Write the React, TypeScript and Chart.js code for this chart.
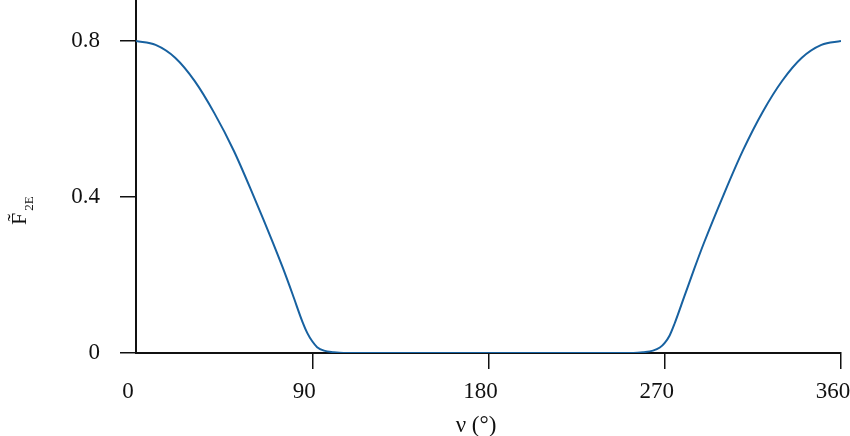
import React, { useEffect, useRef } from "react";
import { Chart, registerables } from "chart.js";

Chart.register(...registerables);

// Angle ν (degrees) and F̃2E values
const nuDeg: number[] = [
  0, 10, 20, 30, 40, 50, 60, 70, 75, 80, 85, 87.5, 90, 92.5, 96, 101, 106,
  120, 150, 180, 210, 240,
  254, 259, 264, 267.5, 270, 272.5, 275, 280, 285, 290, 300, 310, 320, 330, 340, 350, 360,
];
const f2eValues: number[] = [
  0.8, 0.79, 0.757, 0.697, 0.615, 0.518, 0.403, 0.282, 0.218, 0.15, 0.08, 0.051, 0.03, 0.015, 0.006, 0.002, 0.0,
  0, 0, 0, 0, 0,
  0.0, 0.002, 0.006, 0.014, 0.026, 0.045, 0.075, 0.145, 0.215, 0.282, 0.405, 0.52, 0.618, 0.698, 0.757, 0.79, 0.8,
];
const yTickValues: number[] = [0, 0.4, 0.8];
const xTitle = "ν (°)";
const yTitleMain = "F";
const yTitleAccent = "˜";
const yTitleSub = "2E";

const FONT = "'Liberation Serif', 'DejaVu Serif', serif";

const titlesPlugin = {
  id: "customTitles",
  afterDraw(chart: any) {
    const ctx = chart.ctx as CanvasRenderingContext2D;
    ctx.save();
    ctx.fillStyle = "#111";
    // x title
    ctx.font = `23px ${FONT}`;
    ctx.textAlign = "center";
    ctx.textBaseline = "alphabetic";
    ctx.fillText(xTitle, 476, 432);
    ctx.restore();

    // y title (rotated, with tilde and subscript)
    ctx.save();
    ctx.fillStyle = "#111";
    ctx.translate(26, 225);
    ctx.rotate(-Math.PI / 2);
    ctx.textBaseline = "alphabetic";
    ctx.textAlign = "left";
    ctx.font = `22px ${FONT}`;
    ctx.fillText(yTitleMain, 0, 0);
    const wF = ctx.measureText(yTitleMain).width;
    ctx.textAlign = "center";
    ctx.fillText(yTitleAccent, wF / 2 + 1, -4);
    ctx.textAlign = "left";
    ctx.font = `13px ${FONT}`;
    ctx.fillText(yTitleSub, wF + 2, 7);
    ctx.restore();
  },
};

export default function App() {
  const canvasRef = useRef<HTMLCanvasElement | null>(null);

  useEffect(() => {
    if (!canvasRef.current) return;
    const points = nuDeg.map((x, i) => ({ x, y: f2eValues[i] }));
    const chart = new Chart(canvasRef.current, {
      type: "line",
      data: {
        datasets: [
          {
            data: points,
            borderColor: "#1761a0",
            borderWidth: 2,
            pointRadius: 0,
            fill: false,
            cubicInterpolationMode: "monotone",
          },
        ],
      },
      options: {
        animation: false,
        responsive: false,
        maintainAspectRatio: false,
        layout: { padding: 0 },
        plugins: {
          legend: { display: false },
          tooltip: { enabled: false },
          title: { display: false },
        },
        scales: {
          x: {
            type: "linear",
            min: 0,
            max: 360,
            border: { display: true, color: "#111", width: 2 },
            grid: {
              drawOnChartArea: false,
              drawTicks: true,
              tickLength: 16,
              lineWidth: 1.5,
              color: (c: any) => (c.tick && c.tick.value === 0 ? "rgba(0,0,0,0)" : "#111"),
            },
            ticks: {
              stepSize: 90,
              padding: 9,
              labelOffset: -8,
              maxRotation: 0,
              color: "#111",
              font: { family: FONT, size: 23 },
              callback: (v: any) => String(v),
            },
            afterFit: (s: any) => {
              s.height = 83;
              s.paddingLeft = 0;
              s.paddingRight = 9;
            },
          },
          y: {
            type: "linear",
            min: 0,
            max: 0.905,
            border: { display: true, color: "#111", width: 2 },
            grid: {
              drawOnChartArea: false,
              drawTicks: true,
              tickLength: 16,
              lineWidth: 1.5,
              color: "#111",
            },
            afterBuildTicks: (s: any) => {
              s.ticks = yTickValues.map((v) => ({ value: v }));
            },
            ticks: {
              padding: 20,
              color: "#111",
              font: { family: FONT, size: 23 },
              callback: (v: any) => String(Number(v)),
            },
            afterFit: (s: any) => {
              s.width = 136;
              s.paddingTop = 0;
              s.paddingBottom = 0;
            },
          },
        },
      },
      plugins: [titlesPlugin],
    });
    return () => chart.destroy();
  }, []);

  return (
    <div style={{ position: "fixed", left: 0, top: 0, width: 850, height: 436, background: "#fff" }}>
      <canvas ref={canvasRef} width={850} height={436} style={{ width: 850, height: 436, display: "block" }} />
    </div>
  );
}
